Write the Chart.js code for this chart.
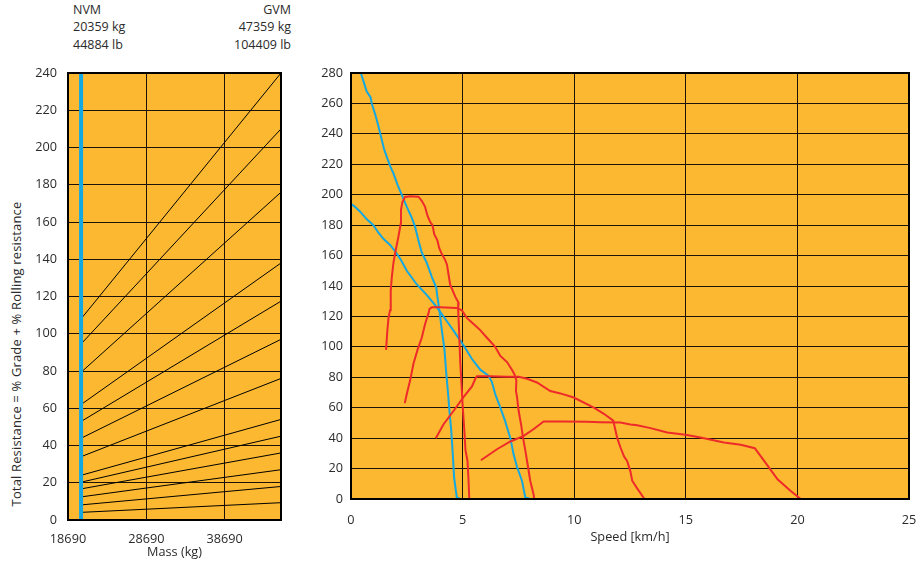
<!DOCTYPE html>
<html><head><meta charset="utf-8">
<script src="https://cdn.jsdelivr.net/npm/chart.js@4.4.1/dist/chart.umd.min.js"></script>
<style>
html,body{margin:0;padding:0;background:#fff;width:918px;height:562px;overflow:hidden;font-family:"Open Sans",sans-serif;color:#2b2b2b}
canvas{position:absolute;top:60px}
#c1{left:0}
#c2{left:300px}
.t{position:absolute;font-size:12.5px;line-height:17.5px;white-space:nowrap}
#ytitle{position:absolute;left:16px;top:354px;font-size:13px;letter-spacing:0.15px;white-space:nowrap;transform:translate(-50%,-50%) rotate(-90deg)}
</style></head><body>
<div class="t" id="nvm" style="left:73px;top:0.5px"></div>
<div class="t" id="gvm" style="right:627px;top:0.5px;text-align:right"></div>
<div id="ytitle"></div>
<canvas id="c1" width="300" height="502" style="width:300px;height:502px"></canvas>
<canvas id="c2" width="618" height="502" style="width:618px;height:502px"></canvas>
<script>
// ---------- header text ----------
const nvmText = ["NVM", "20359 kg", "44884 lb"];
const gvmText = ["GVM", "47359 kg", "104409 lb"];
const leftYTitle = "Total Resistance = % Grade + % Rolling resistance";
const leftXTitle = "Mass (kg)";
const rightXTitle = "Speed [km/h]";

// ---------- left chart data ----------
const massTicks = [18690, 28690, 38690];
const massMin = 18690;
const massMax = 45900;
const nvmMass = 20359;
const resMin = 0, resMax = 240, resStep = 20;
const lineStartRes = [108, 94.5, 79.3, 62, 52.9, 43.9, 34, 24, 20.3, 16.7, 12.4, 8.1, 4.1];
const lineEndRes   = [240, 210, 176, 138, 117.5, 97, 76, 54, 45, 36, 27, 18, 9.3];

// ---------- right chart data ----------
const speedMin = 0, speedMax = 25, speedStep = 5;
const forceMin = 0, forceMax = 280, forceStep = 20;

const blue1Speed = [0.44,0.55,0.70,0.88,0.93,1.08,1.23,1.38,1.48,1.60,1.75,1.90,2.10,2.27,2.50,2.72,2.87,3.02,3.17,3.40,3.62,3.82,3.87,3.96,4.07,4.19,4.26,4.34,4.41,4.49,4.55,4.62,4.74,4.89];
const blue1Force = [280,275,268,264,260,253,245,236,230,225,219,214,206,200,192,185,179,170,162,155,146,139,133,124,111,98,84,71,58,45,32,14,1,0];

const blue2Speed = [0,0.18,0.40,0.70,1.00,1.23,1.45,1.75,1.97,2.20,2.50,2.95,3.40,3.85,4.29,4.67,5.04,5.42,5.79,6.16,6.31,6.46,6.69,6.91,7.14,7.29,7.44,7.66,7.81,8.03];
const blue2Force = [194,192,189,184,180,175,171,167,163,158,150,141,134,126,117,109,101,92,85,81,77,69,60,51,40,29,21,12,1,0];

const redASpeed = [1.57,1.63,1.68,1.75,1.78,1.83,1.90,1.97,2.12,2.23,2.24,2.30,2.42,2.65,3.02,3.17,3.32,3.43,3.55,3.65,3.73,3.87,3.95,4.07,4.22,4.30,4.44,4.67,4.82,4.80,4.85,4.89,4.95,5.00,5.07,5.13,5.22,5.26,5.30];
const redAForce = [98,111,119,124,137,146,155,161,172,181,190,195,198.5,199,198.7,196,192,186,182,180,174,170,165,161,157,154,141,133,129,125,108,91,76,62,47,32,25,14,0];

const redBSpeed = [2.41,2.50,2.65,2.80,2.98,3.17,3.32,3.47,3.52,3.62,3.99,4.74,4.97,5.19,5.49,5.79,6.09,6.46,6.69,6.99,7.21,7.32,7.41,7.39,7.44,7.51,7.62,7.71,7.81,7.91,8.03,8.18,8.21];
const redBForce = [63,69,78,89,98,106,115,122,125,126,126,125.6,124,119,115,111,106,100,94,90,85,82,78,71,67,58,49,40,32,23,12,3,0];

const redCSpeed = [3.80,4.14,4.60,5.04,5.42,5.57,5.64,6.24,6.99,7.51,7.89,8.33,8.93,9.38,9.98,10.88,11.33,11.75,11.85,11.93,12.07,12.23,12.37,12.52,12.60,12.82,13.15];
const redCForce = [40,49,58,67,74,79,80.6,80.6,80.4,80.4,79,76.6,71,69.4,66.7,60,56,51.5,45,40,34,28,25,18,12,7,0];

const redDSpeed = [5.82,6.54,7.14,7.74,8.19,8.63,9.53,10.58,11.18,12.07,12.52,12.82,13.42,14.17,14.99,15.66,16.71,17.46,18.09,18.51,19.11,19.70,20.15];
const redDForce = [25.5,32.7,37.8,41.5,46,51,51,50.7,50.5,50.3,49,48.5,46.6,43.7,42.2,40.4,37.1,35.6,33.4,25,13,5.3,0];

// ---------- styling ----------
const ORANGE = '#FBB830';
const BLUE = '#14A8E2';
const RED = '#EE2A2A';
const GRID = '#1c1408';
const TEXT = '#2b2b2b';

document.getElementById('nvm').innerHTML = nvmText.join('<br>');
document.getElementById('gvm').innerHTML = gvmText.join('<br>');
document.getElementById('ytitle').textContent = leftYTitle;

Chart.defaults.font.family = "'Open Sans', sans-serif";
Chart.defaults.font.size = 12.7;
Chart.defaults.color = TEXT;

const framePlugin = {
  id: 'frame',
  beforeDraw(chart) {
    const {ctx, chartArea: a} = chart;
    ctx.save();
    ctx.fillStyle = ORANGE;
    ctx.fillRect(a.left, a.top, a.right - a.left, a.bottom - a.top);
    ctx.restore();
  },
  afterDraw(chart) {
    const {ctx, chartArea: a} = chart;
    ctx.save();
    ctx.strokeStyle = '#000';
    ctx.lineWidth = 2;
    ctx.strokeRect(a.left, a.top, a.right - a.left, a.bottom - a.top);
    ctx.restore();
  }
};

function zip(xs, ys) { return xs.map((x, i) => ({x, y: ys[i]})); }
function fixH(h) { return s => { s.height = h; s.paddingLeft = 0; s.paddingRight = 0; }; }
function fixW(w) { return s => { s.width = w; s.paddingTop = 0; s.paddingBottom = 0; }; }

// ---------- left chart ----------
const leftDatasets = [{
  data: [{x: nvmMass, y: resMin}, {x: nvmMass, y: resMax}],
  borderColor: BLUE, borderWidth: 4
}];
lineStartRes.forEach((s, i) => {
  leftDatasets.push({
    data: [{x: nvmMass, y: s}, {x: massMax, y: lineEndRes[i]}],
    borderColor: '#000', borderWidth: 1
  });
});

new Chart(document.getElementById('c1'), {
  type: 'scatter',
  data: {datasets: leftDatasets.map(d => Object.assign({showLine: true, pointRadius: 0, tension: 0}, d))},
  plugins: [framePlugin],
  options: {
    responsive: false, animation: false, devicePixelRatio: 1,
    layout: {padding: {top: 13, right: 19, left: 0, bottom: 0}},
    plugins: {legend: {display: false}, tooltip: {enabled: false}},
    scales: {
      x: {
        type: 'linear', min: massMin, max: massMax,
        afterBuildTicks: s => { s.ticks = massTicks.map(v => ({value: v})); },
        afterFit: fixH(42),
        grid: {color: GRID, lineWidth: 1, drawTicks: false},
        border: {display: false},
        ticks: {padding: 12, maxRotation: 0, autoSkip: false, callback: v => String(v)},
        title: {display: true, text: leftXTitle, padding: {top: 0, bottom: 2}}
      },
      y: {
        type: 'linear', min: resMin, max: resMax,
        ticks: {stepSize: resStep, padding: 11},
        afterFit: fixW(68),
        grid: {color: GRID, lineWidth: 1, drawTicks: false},
        border: {display: false}
      }
    }
  }
});

// ---------- right chart ----------
const curves = [
  [redASpeed, redAForce, RED],
  [redBSpeed, redBForce, RED],
  [redCSpeed, redCForce, RED],
  [redDSpeed, redDForce, RED],
  [blue1Speed, blue1Force, BLUE],
  [blue2Speed, blue2Force, BLUE]
];

new Chart(document.getElementById('c2'), {
  type: 'scatter',
  data: {datasets: curves.map(([xs, ys, c]) => ({
    data: zip(xs, ys), showLine: true, pointRadius: 0, tension: 0,
    borderColor: c, borderWidth: 2
  }))},
  plugins: [framePlugin],
  options: {
    responsive: false, animation: false, devicePixelRatio: 1,
    layout: {padding: {top: 13, right: 9, left: 0, bottom: 0}},
    plugins: {legend: {display: false}, tooltip: {enabled: false}},
    scales: {
      x: {
        type: 'linear', min: speedMin, max: speedMax,
        ticks: {stepSize: speedStep, padding: 14, maxRotation: 0},
        afterFit: fixH(63),
        grid: {color: GRID, lineWidth: 1, drawTicks: false},
        border: {display: false},
        title: {display: true, text: rightXTitle, padding: {top: 0, bottom: 17}}
      },
      y: {
        type: 'linear', min: forceMin, max: forceMax,
        ticks: {stepSize: forceStep, padding: 8},
        afterFit: fixW(51),
        grid: {color: GRID, lineWidth: 1, drawTicks: false},
        border: {display: false}
      }
    }
  }
});
</script>
</body></html>
